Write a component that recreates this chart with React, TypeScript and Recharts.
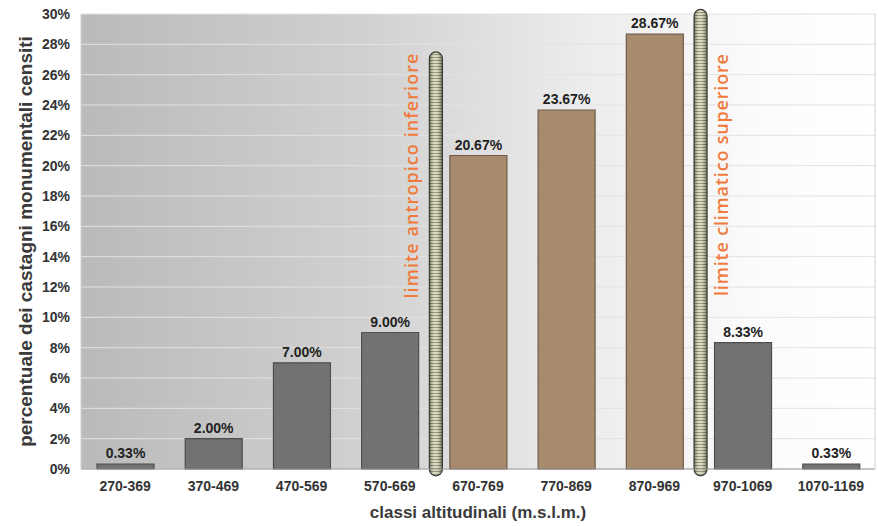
import {
  Bar,
  BarChart,
  CartesianGrid,
  Cell,
  LabelList,
  ReferenceLine,
  XAxis,
  YAxis,
} from 'recharts'

const CLASSES = ['270-369', '370-469', '470-569', '570-669', '670-769', '770-869', '870-969', '970-1069', '1070-1169']
const SHARES = [0.33, 2.0, 7.0, 9.0, 20.67, 23.67, 28.67, 8.33, 0.33]
// classes lying between the two altitude limits
const IN_BAND = [false, false, false, false, true, true, true, false, false]
const Y_TICKS = [0, 2, 4, 6, 8, 10, 12, 14, 16, 18, 20, 22, 24, 26, 28, 30]

const LIMIT_CLASSES = ['670-769', '970-1069']
const LIMIT_TOPS = [27.5, 30.3]
const LIMIT_TEXTS = ['limite antropico inferiore', 'limite climatico superiore']

const GREY = '#727272'
const BROWN = '#a88a6d'
const ORANGE = '#f07a3c'
const FONT = '"Liberation Sans", Arial, sans-serif'

const data = CLASSES.map((classe, i) => ({ classe, quota: SHARES[i], inBand: IN_BAND[i] }))

function limitShape(text: string, side: number, textY: number, textLen: number) {
  return (props: any) => {
    const { x1, y1, y2 } = props
    const top = Math.min(y1, y2)
    const bottom = Math.max(y1, y2)
    const w = 13
    return (
      <g>
        <rect x={x1 - w / 2 + 2} y={top} width={w} height={bottom - top} rx={w / 2} fill="url(#stripes)" />
        <rect
          x={x1 - w / 2 + 2}
          y={top}
          width={w}
          height={bottom - top}
          rx={w / 2}
          fill="url(#cylinder)"
          stroke="#3b3a30"
          strokeWidth={1.2}
        />
        <text
          transform={`translate(${x1 + side},${textY}) rotate(-90)`}
          textAnchor="middle"
          fill={ORANGE}
          fontFamily='"Open Sans", sans-serif'
          fontWeight={600}
          fontSize={18}
          textLength={textLen}
          lengthAdjust="spacing"
        >
          {text}
        </text>
      </g>
    )
  }
}

export default function App() {
  return (
    <div style={{ position: 'absolute', left: 0, top: 0, background: '#fff' }}>
      <BarChart width={878} height={526} data={data} margin={{ top: 14, right: 0, left: 0, bottom: 0 }}>
        <defs>
          <linearGradient id="plotBg" x1="0" y1="0" x2="1" y2="0">
            <stop offset="0%" stopColor="#bababa" />
            <stop offset="35%" stopColor="#d0d0d0" />
            <stop offset="62%" stopColor="#ebebeb" />
            <stop offset="85%" stopColor="#fbfbfb" />
            <stop offset="100%" stopColor="#ffffff" />
          </linearGradient>
          <pattern id="stripes" width="4" height="3" patternUnits="userSpaceOnUse">
            <rect width="4" height="3" fill="#dcdab8" />
            <rect width="4" height="1" fill="#83896a" />
          </pattern>
          <linearGradient id="cylinder" x1="0" y1="0" x2="1" y2="0">
            <stop offset="0%" stopColor="#000" stopOpacity={0.45} />
            <stop offset="45%" stopColor="#fff" stopOpacity={0.15} />
            <stop offset="100%" stopColor="#000" stopOpacity={0.45} />
          </linearGradient>
        </defs>
        <CartesianGrid vertical={false} stroke="#e2e2e2" fill="url(#plotBg)" />
        <XAxis
          dataKey="classe"
          height={57}
          interval={0}
          tickLine={false}
          tickMargin={6}
          axisLine={{ stroke: '#9a9a9a' }}
          tick={{ fontSize: 14, fontWeight: 'bold', fill: '#333', fontFamily: FONT }}
          label={{
            value: 'classi altitudinali (m.s.l.m.)',
            position: 'insideBottom',
            offset: 8,
            style: { fontSize: 17, fontWeight: 'bold', fill: '#3a3a3a', fontFamily: FONT },
          }}
        />
        <YAxis
          width={81}
          domain={[0, 30]}
          ticks={Y_TICKS}
          interval={0}
          tickFormatter={(v) => `${v}%`}
          tickLine={false}
          tickMargin={5}
          axisLine={{ stroke: '#cfcfcf' }}
          tick={{ fontSize: 14, fontWeight: 'bold', fill: '#333', fontFamily: FONT }}
          label={{
            content: ({ viewBox }: any) => (
              <text
                transform={`translate(${viewBox.x + 32},${viewBox.y + viewBox.height / 2}) rotate(-90)`}
                textAnchor="middle"
                fontSize={19}
                fontWeight="bold"
                fill="#3a3a3a"
                fontFamily={FONT}
              >
                percentuale dei castagni monumentali censiti
              </text>
            ),
          }}
        />
        <YAxis
          yAxisId="frame"
          orientation="right"
          width={3}
          domain={[0, 30]}
          tick={false}
          tickLine={false}
          axisLine={{ stroke: '#d0d0d0' }}
        />
        <Bar dataKey="quota" barSize={57} isAnimationActive={false}>
          {data.map((d, i) => (
            <Cell key={i} fill={d.inBand ? BROWN : GREY} stroke={d.inBand ? '#6e5b49' : '#4e4e4e'} strokeWidth={1.2} />
          ))}
          <LabelList
            dataKey="quota"
            position="top"
            offset={6}
            formatter={(v: any) => `${Number(v).toFixed(2)}%`}
            style={{ fontSize: 14, fontWeight: 'bold', fill: '#222', fontFamily: FONT }}
          />
        </Bar>
        <ReferenceLine
          segment={[
            { x: LIMIT_CLASSES[0], y: -0.45 },
            { x: LIMIT_CLASSES[0], y: LIMIT_TOPS[0] },
          ]}
          position="start"
          ifOverflow="visible"
          shape={limitShape(LIMIT_TEXTS[0], -16, 176, 245)}
        />
        <ReferenceLine
          segment={[
            { x: LIMIT_CLASSES[1], y: -0.45 },
            { x: LIMIT_CLASSES[1], y: LIMIT_TOPS[1] },
          ]}
          position="start"
          ifOverflow="visible"
          shape={limitShape(LIMIT_TEXTS[1], 29, 175, 242)}
        />
      </BarChart>
    </div>
  )
}
